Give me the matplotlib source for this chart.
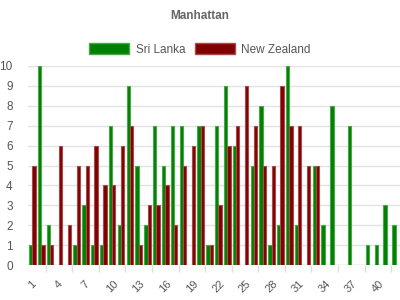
import numpy as np
import matplotlib

matplotlib.use("Agg")
import matplotlib.pyplot as plt
from matplotlib.patches import Patch

plt.rcParams["font.family"] = ["Liberation Sans", "DejaVu Sans"]

# --- data -----------------------------------------------------------------
overs = np.arange(1, 43)
sri_lanka = [1, 10, 2, 0, 0, 1, 3, 1, 1, 7, 2, 9, 5, 2, 7, 5, 7, 7, 0, 7, 1,
             7, 9, 6, 0, 5, 8, 1, 2, 10, 2, 0, 5, 2, 8, 0, 7, 0, 1, 1, 3, 2]
new_zealand = [5, 1, 1, 6, 2, 5, 5, 6, 4, 4, 6, 7, 1, 3, 3, 4, 2, 5, 6, 7, 1,
               3, 6, 7, 9, 7, 5, 5, 9, 7, 7, 5, 5, 0, 0, 0, 0, 0, 0, 0, 0, 0]
series_names = ["Sri Lanka", "New Zealand"]
tick_overs = list(range(1, 41, 3))

GREEN, GREEN_EDGE = "#008000", "#4ca64c"
RED, RED_EDGE = "#800000", "#a64c4c"

fig = plt.figure(figsize=(4, 3), dpi=100)
ax = fig.add_axes([28 / 400, 35 / 300, 372 / 400, 199 / 300])

bw = 0.37
for vals, off, fc, ec in [(sri_lanka, -0.19, GREEN, GREEN_EDGE),
                          (new_zealand, 0.19, RED, RED_EDGE)]:
    vals = np.asarray(vals)
    m = vals > 0
    ax.bar(overs[m] + off, vals[m], width=bw, color=fc, edgecolor=ec,
           linewidth=0.8, zorder=3)

ax.set_xlim(0.5, 42.5)
ax.set_ylim(0, 10)
ax.set_yticks(range(0, 11))
ax.grid(axis="y", color="#e2e2e2", linewidth=1, zorder=0)
for s in ax.spines.values():
    s.set_visible(False)
ax.axhline(0, color="#d8d8d8", linewidth=1, zorder=1)

ax.set_xticks(tick_overs)
ax.set_xticklabels([str(t) for t in tick_overs], rotation=45, ha="center",
                   va="top")
ax.set_xticks(np.arange(2.5, 42.5, 3), minor=True)
ax.tick_params(axis="x", which="major", length=0, pad=10, labelsize=8,
               labelcolor="#555555")
ax.tick_params(axis="x", which="minor", length=5, color="#dddddd", width=1)
ax.tick_params(axis="y", length=0, pad=11, labelsize=8.5, labelcolor="#555555")

fig.text(0.5, 1 - 16 / 300, "Manhattan", ha="center", va="center",
         fontweight="bold", fontsize=8.5, color="#666666")

handles = [Patch(facecolor=GREEN, edgecolor=GREEN_EDGE),
           Patch(facecolor=RED, edgecolor=RED_EDGE)]
fig.legend(handles, series_names, loc="center", ncol=2, frameon=False,
           bbox_to_anchor=(0.5, 1 - 49.5 / 300), fontsize=8.5,
           labelcolor="#555555", handlelength=3.4, handleheight=1.1,
           handletextpad=0.55, columnspacing=0.8, borderpad=0)

fig.savefig("out.png", dpi=100)
